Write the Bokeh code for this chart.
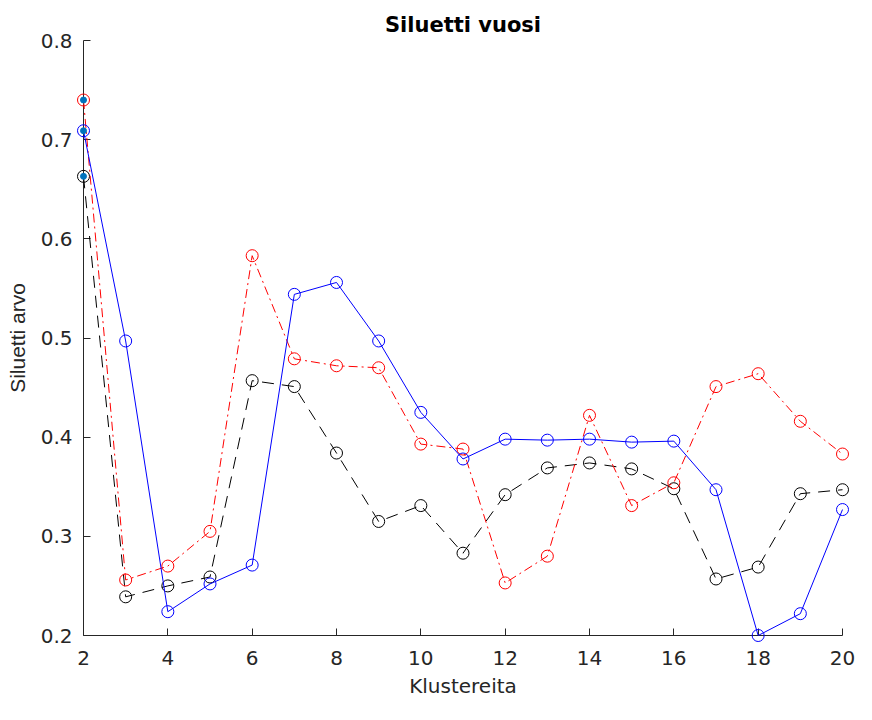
from bokeh.plotting import figure
from bokeh.models import Range1d, FixedTicker, PrintfTickFormatter
from bokeh.embed import file_html
from bokeh.resources import INLINE

# ---- data ----
clusters = list(range(2, 21))
silhouette_blue = [0.709, 0.497, 0.224, 0.252, 0.271, 0.544, 0.556, 0.497, 0.425, 0.378,
                   0.398, 0.397, 0.398, 0.395, 0.396, 0.347, 0.200, 0.222, 0.327]
silhouette_red = [0.740, 0.256, 0.270, 0.305, 0.583, 0.479, 0.472, 0.470, 0.393, 0.388,
                  0.253, 0.280, 0.422, 0.331, 0.354, 0.451, 0.464, 0.416, 0.383]
silhouette_black = [0.663, 0.239, 0.250, 0.259, 0.457, 0.451, 0.384, 0.315, 0.331, 0.283,
                    0.342, 0.369, 0.374, 0.368, 0.348, 0.257, 0.269, 0.343, 0.347]
x_ticks = [2, 4, 6, 8, 10, 12, 14, 16, 18, 20]
y_ticks = [0.2, 0.3, 0.4, 0.5, 0.6, 0.7, 0.8]

FONT = "DejaVu Sans"
FONT_V = "Liberation Sans"
AXIS_COLOR = "#262626"

p = figure(width=856, height=700, output_backend="svg", toolbar_location=None,
           x_range=Range1d(2, 20), y_range=Range1d(0.2, 0.8),
           min_border_left=83, min_border_right=14, min_border_top=40, min_border_bottom=63)

p.title.text = "Siluetti vuosi"
p.title.text_font = FONT
p.title.text_font_size = "21px"
p.title.text_font_style = "bold"
p.title.text_color = "#000000"
p.title.align = "center"
p.title.standoff = 8

p.outline_line_color = None
p.grid.visible = False
p.background_fill_color = "white"
p.border_fill_color = "white"

for ax in (p.xaxis[0], p.yaxis[0]):
    ax.axis_line_color = AXIS_COLOR
    ax.axis_line_width = 1
    ax.major_tick_line_color = AXIS_COLOR
    ax.major_tick_in = 7
    ax.major_tick_out = 0
    ax.minor_tick_line_color = None
    ax.major_label_text_font = FONT
    ax.major_label_text_font_size = "20px"
    ax.major_label_text_color = AXIS_COLOR
    ax.axis_label_text_font_style = "normal"
    ax.axis_label_text_color = AXIS_COLOR

p.xaxis.axis_label_text_font = FONT
p.xaxis.axis_label_text_font_size = "20px"
p.yaxis.axis_label_text_font = FONT_V
p.yaxis.axis_label_text_font_size = "21px"

p.xaxis.ticker = FixedTicker(ticks=x_ticks)
p.yaxis.ticker = FixedTicker(ticks=y_ticks)
p.yaxis.formatter = PrintfTickFormatter(format="%.1f")
p.xaxis.axis_label = "Klustereita"
p.yaxis.axis_label = "Siluetti arvo"
p.xaxis.major_label_standoff = 15
p.yaxis.major_label_standoff = 11
p.xaxis.axis_label_standoff = 6
p.yaxis.axis_label_standoff = 9

# black dashed
p.line(clusters, silhouette_black, line_color="#000000", line_width=1,
       line_dash="12 8", level="overlay")
p.scatter(clusters, silhouette_black, marker="circle", size=12, fill_color=None,
          line_color="#000000", line_width=1, level="overlay")
# red dash-dot
p.line(clusters, silhouette_red, line_color="#FF0000", line_width=1,
       line_dash="9 4 2 4", level="overlay")
p.scatter(clusters, silhouette_red, marker="circle", size=12, fill_color=None,
          line_color="#FF0000", line_width=1, level="overlay")
# blue solid
p.line(clusters, silhouette_blue, line_color="#0000FF", line_width=1, level="overlay")
p.scatter(clusters, silhouette_blue, marker="circle", size=12, fill_color=None,
          line_color="#0000FF", line_width=1, level="overlay")

# filled default-colour dots at the first cluster count
first_x = [clusters[0]] * 3
first_y = [silhouette_red[0], silhouette_blue[0], silhouette_black[0]]
p.scatter(first_x, first_y, marker="circle", size=6, fill_color="#0072BD",
          line_color="#0072BD", level="overlay")

open("out.html", "w").write(file_html(p, INLINE))
